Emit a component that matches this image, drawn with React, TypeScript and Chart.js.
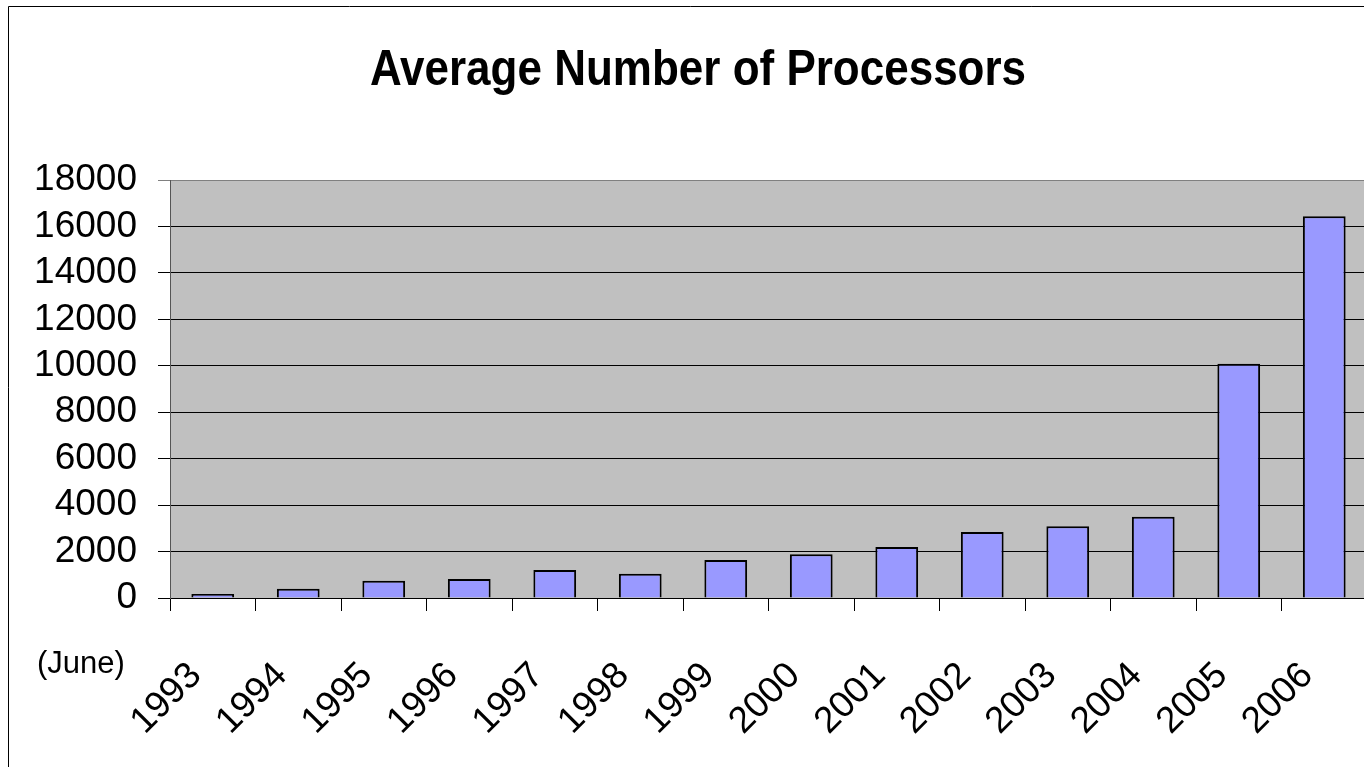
import React, { useEffect, useRef } from "react";
import { Chart, registerables } from "chart.js";

Chart.register(...registerables);

const years = ["1993", "1994", "1995", "1996", "1997", "1998", "1999", "2000", "2001", "2002", "2003", "2004", "2005", "2006"];
const avgProcessors = [170, 400, 745, 820, 1205, 1045, 1635, 1880, 2195, 2840, 3085, 3500, 10090, 16435];
const yTicks = [0, 2000, 4000, 6000, 8000, 10000, 12000, 14000, 16000, 18000];
const chartTitle = "Average Number of Processors";
const axisNote = "(June)";

const FONT = "'Liberation Sans', Arial, sans-serif";

// Page frame, plot-area fill, title and the "(June)" note
const decorations = {
  id: "decorations",
  beforeDraw(chart: Chart) {
    const { ctx, chartArea, width, height } = chart;
    ctx.save();
    ctx.fillStyle = "#ffffff";
    ctx.fillRect(0, 0, width, height);
    // outer frame
    ctx.strokeStyle = "#000000";
    ctx.lineWidth = 1;
    ctx.beginPath();
    ctx.moveTo(8.5, height + 2);
    ctx.lineTo(8.5, 6.5);
    ctx.lineTo(width + 2, 6.5);
    ctx.stroke();
    // plot area
    ctx.fillStyle = "#c0c0c0";
    ctx.fillRect(chartArea.left, chartArea.top, chartArea.right - chartArea.left, chartArea.bottom - chartArea.top);
    ctx.restore();
  },
  afterDraw(chart: Chart) {
    const { ctx } = chart;
    ctx.save();
    ctx.fillStyle = "#000000";
    ctx.textAlign = "center";
    ctx.textBaseline = "alphabetic";
    ctx.font = `bold 44px ${FONT}`;
    ctx.translate(698, 85);
    ctx.scale(1, 1.13);
    ctx.fillText(chartTitle, 0, 0);
    ctx.restore();

    ctx.save();
    ctx.fillStyle = "#000000";
    ctx.textAlign = "left";
    ctx.textBaseline = "alphabetic";
    ctx.font = `31px ${FONT}`;
    ctx.fillText(axisNote, 37, 673);
    ctx.restore();
  },
};

export default function App() {
  const canvasRef = useRef<HTMLCanvasElement | null>(null);

  useEffect(() => {
    if (!canvasRef.current) return;
    const chart = new Chart(canvasRef.current, {
      type: "bar",
      data: {
        labels: years,
        datasets: [
          {
            data: avgProcessors,
            backgroundColor: "#9999ff",
            borderColor: "#000000",
            borderWidth: 2,
            barPercentage: 0.5,
            categoryPercentage: 1,
          },
        ],
      },
      options: {
        responsive: false,
        animation: false,
        devicePixelRatio: 1,
        layout: { padding: { top: 180, right: 5, left: 0, bottom: 0 } },
        plugins: {
          legend: { display: false },
          title: { display: false },
          tooltip: { enabled: false },
        },
        scales: {
          x: {
            grid: {
              offset: true,
              drawOnChartArea: false,
              drawTicks: true,
              tickLength: 13,
              color: "#000000",
            },
            border: { display: true, color: "#000000", width: 1 },
            ticks: {
              color: "#000000",
              font: { family: FONT, size: 37 },
              minRotation: 45,
              maxRotation: 45,
              padding: 43,
              labelOffset: -17,
              autoSkip: false,
            },
            afterFit(scale: any) {
              scale.height = 169;
              scale.paddingLeft = 0;
              scale.paddingRight = 0;
            },
          },
          y: {
            min: 0,
            max: 18000,
            afterBuildTicks(scale: any) {
              scale.ticks = yTicks.map((v) => ({ value: v }));
            },
            grid: {
              color: (c: any) => (c.tick && c.tick.value === 18000 ? "#808080" : "#000000"),
              drawTicks: true,
              tickLength: 12,
            },
            border: { display: true, color: "#555555", width: 1 },
            ticks: {
              color: "#000000",
              font: { family: FONT, size: 37 },
              padding: 21,
              autoSkip: false,
              callback: (v: any) => String(v),
            },
            afterFit(scale: any) {
              scale.width = 170;
              scale.paddingTop = 0;
              scale.paddingBottom = 0;
            },
          },
        },
      },
      plugins: [decorations],
    });
    return () => chart.destroy();
  }, []);

  return (
    <div style={{ position: "fixed", left: 0, top: 0, width: "100vw", height: "100vh", overflow: "hidden", background: "#ffffff" }}>
      <canvas ref={canvasRef} width={1372} height={767} style={{ display: "block" }} />
    </div>
  );
}
